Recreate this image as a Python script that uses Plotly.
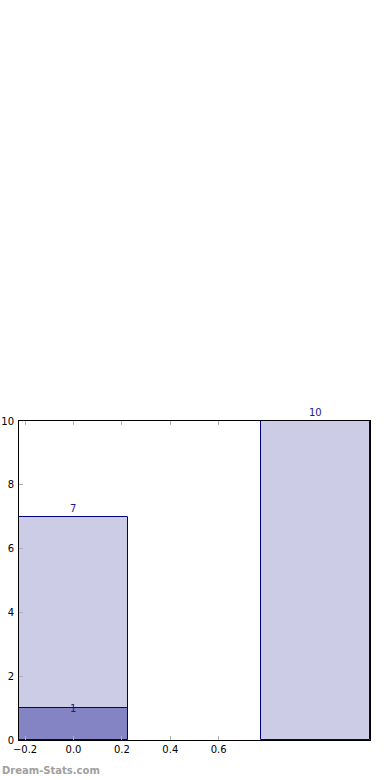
import plotly.graph_objects as go

categories = [0, 1]
totals = [7, 10]
subset_cat = [0]
subset_vals = [1]
xtick_vals = [-0.2, 0.0, 0.2, 0.4, 0.6]
xtick_text = ["\u22120.2", "0.0", "0.2", "0.4", "0.6"]
ytick_vals = [0, 2, 4, 6, 8, 10]

fig = go.Figure()
fig.add_trace(go.Bar(x=categories, y=totals, width=0.45,
                     marker=dict(color="#ccccE6", line=dict(color="#000080", width=1)),
                     showlegend=False, hoverinfo="skip"))
fig.add_trace(go.Bar(x=subset_cat, y=subset_vals, width=0.45,
                     marker=dict(color="#8484C4", line=dict(color="#000080", width=1)),
                     showlegend=False, hoverinfo="skip"))

for xv, yv in zip(categories, totals):
    fig.add_annotation(x=xv, y=yv, text=str(yv), showarrow=False, yanchor="bottom",
                       yshift=1, font=dict(color="#1a1a8c", size=10, family="DejaVu Sans"))
for xv, yv in zip(subset_cat, subset_vals):
    fig.add_annotation(x=xv, y=yv, text=str(yv), showarrow=False, yanchor="middle",
                       yshift=0, font=dict(color="#1a1a8c", size=10, family="DejaVu Sans"))

fig.add_annotation(xref="paper", yref="paper", x=-19/351, y=-30/319, text="<b>Dream-Stats.com</b>",
                   showarrow=False, xanchor="left", yanchor="middle",
                   font=dict(color="#a0a0a0", size=10, family="DejaVu Sans"))

fig.update_layout(
    width=390, height=780, barmode="overlay",
    margin=dict(l=19, r=20, t=421, b=40, autoexpand=False),
    paper_bgcolor="white", plot_bgcolor="white",
    font=dict(family="DejaVu Sans", size=10, color="black"),
    bargap=0,
)
fig.update_xaxes(range=[-0.225, 1.225], tickvals=xtick_vals, ticktext=xtick_text, automargin=False,
                 ticks="inside", ticklen=4, tickcolor="#b0b0b0", showgrid=False, zeroline=False,
                 showline=True, linecolor="black", linewidth=1, mirror="allticks")
fig.update_yaxes(range=[0, 10], tickvals=ytick_vals, ticks="inside", ticklen=4, tickcolor="#b0b0b0",
                 showgrid=False, zeroline=False, showline=True, linecolor="black", linewidth=1,
                 mirror=True, ticklabelstandoff=2, automargin=False)

fig.write_html("out.html", config={"displayModeBar": False},
               post_script="document.body.style.margin='0';")
